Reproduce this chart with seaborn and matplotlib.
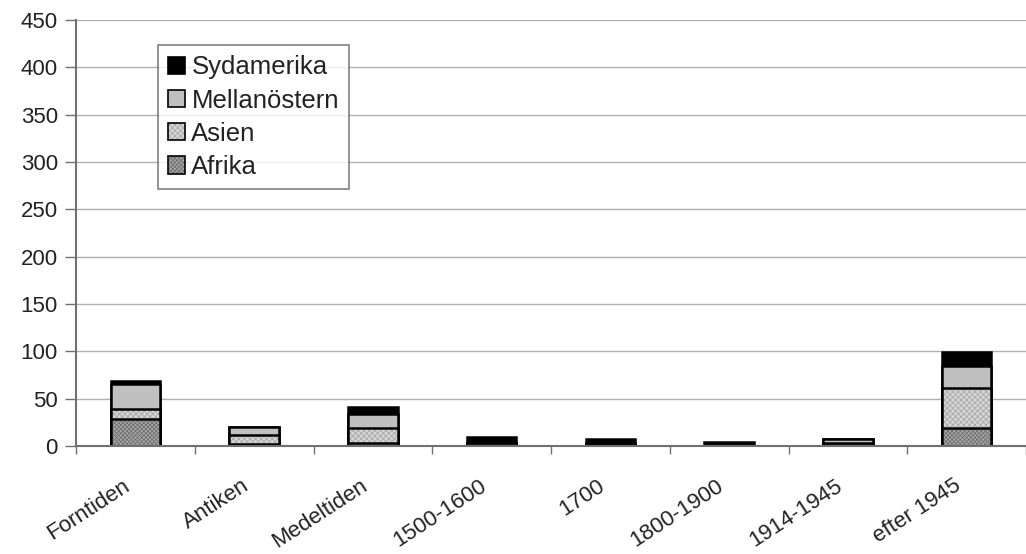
import numpy as np
import pandas as pd
import matplotlib
matplotlib.use("Agg")
import matplotlib.pyplot as plt
import matplotlib.transforms as mtransforms
from matplotlib.patches import Patch
import seaborn as sns

# Periods on the x axis
periods = ["Forntiden", "Antiken", "Medeltiden", "1500-1600", "1700",
           "1800-1900", "1914-1945", "efter 1945"]

# Count per region and period (stacked bottom to top)
afrika = [28, 2, 3, 1, 1, 0, 1, 19]
asien = [11, 10, 16, 2, 1, 0, 2, 42]
mellanostern = [27, 8, 15, 1, 1, 0, 4, 23]
sydamerika = [3, 0, 7, 5, 4, 4, 0, 15]

regions = ["Afrika", "Asien", "Mellanöstern", "Sydamerika"]
face = {"Afrika": "#a9a9a9", "Asien": "#d6d6d6",
        "Mellanöstern": "#c0c0c0", "Sydamerika": "#000000"}
hatch = {"Afrika": "xxxxxxxx", "Asien": "xxxxxx", "Mellanöstern": "", "Sydamerika": ""}
hatch_col = {"Afrika": "#707070", "Asien": "#a8a8a8",
             "Mellanöstern": "#000000", "Sydamerika": "#000000"}

sns.set_style("white")
plt.rcParams["font.family"] = ["Liberation Sans", "DejaVu Sans"]
plt.rcParams["hatch.linewidth"] = 0.6

df = pd.DataFrame({"period": periods, "Afrika": afrika, "Asien": asien,
                   "Mellanöstern": mellanostern, "Sydamerika": sydamerika})
cum = df[regions].cumsum(axis=1)

fig = plt.figure(figsize=(10.26, 5.54), dpi=100)
ax = fig.add_axes([76 / 1026, 108 / 554, 950 / 1026, 426 / 554])

# Draw cumulative totals from the top layer down so each segment shows
for reg in reversed(regions):
    n_before = len(ax.patches)
    sns.barplot(x=df["period"], y=cum[reg], order=periods, ax=ax,
                color=face[reg], saturation=1, width=0.416,
                edgecolor="black", linewidth=1.8, hatch=hatch[reg])
    for p in ax.patches[n_before:]:
        p._hatch_color = matplotlib.colors.to_rgba(hatch_col[reg])

ax.set_xlim(-0.5, 7.40)
ax.set_ylim(0, 450)
ax.set_yticks(np.arange(0, 451, 50))
ax.yaxis.grid(True, color="#b0b0b0", linewidth=1)
ax.set_axisbelow(True)
ax.set_xlabel("")
ax.set_ylabel("")

for s in ["top", "right"]:
    ax.spines[s].set_visible(False)
for s in ["left", "bottom"]:
    ax.spines[s].set_color("#707070")
    ax.spines[s].set_linewidth(1.5)

ax.tick_params(axis="y", length=8, width=1, color="#707070", labelsize=16,
               labelcolor="#222222", pad=5, left=True)
ax.set_xticks(np.arange(-0.5, 8, 1), minor=True)
ax.tick_params(axis="x", which="major", length=0, pad=21)
ax.tick_params(axis="x", which="minor", length=6, width=1, color="#707070",
               bottom=True)
ax.set_xticks(range(len(periods)))
ax.set_xticklabels(periods, rotation=33, ha="right", rotation_mode="anchor",
                   fontsize=16, color="#222222")
shift = mtransforms.ScaledTranslation(-13 / 100, 0, fig.dpi_scale_trans)
for lab in ax.get_xticklabels():
    lab.set_transform(lab.get_transform() + shift)

handles = []
for r in reversed(regions):
    h = Patch(facecolor=face[r], edgecolor="black", hatch=hatch[r],
              linewidth=1.2, label=r)
    handles.append(h)
leg = ax.legend(handles=handles, loc="upper left",
                bbox_to_anchor=(82 / 950, (446 - 45) / 426),
                frameon=True, fancybox=False, fontsize=18.5,
                handlelength=0.65, handleheight=0.65, handletextpad=0.25,
                labelspacing=0.36, borderpad=0.4, borderaxespad=0)
leg.get_frame().set_edgecolor("#606060")
leg.get_frame().set_linewidth(1.2)
for t in leg.get_texts():
    t.set_color("#222222")
for h, r in zip(leg.legend_handles, reversed(regions)):
    h._hatch_color = matplotlib.colors.to_rgba(hatch_col[r])

fig.savefig("out.png", dpi=100)
